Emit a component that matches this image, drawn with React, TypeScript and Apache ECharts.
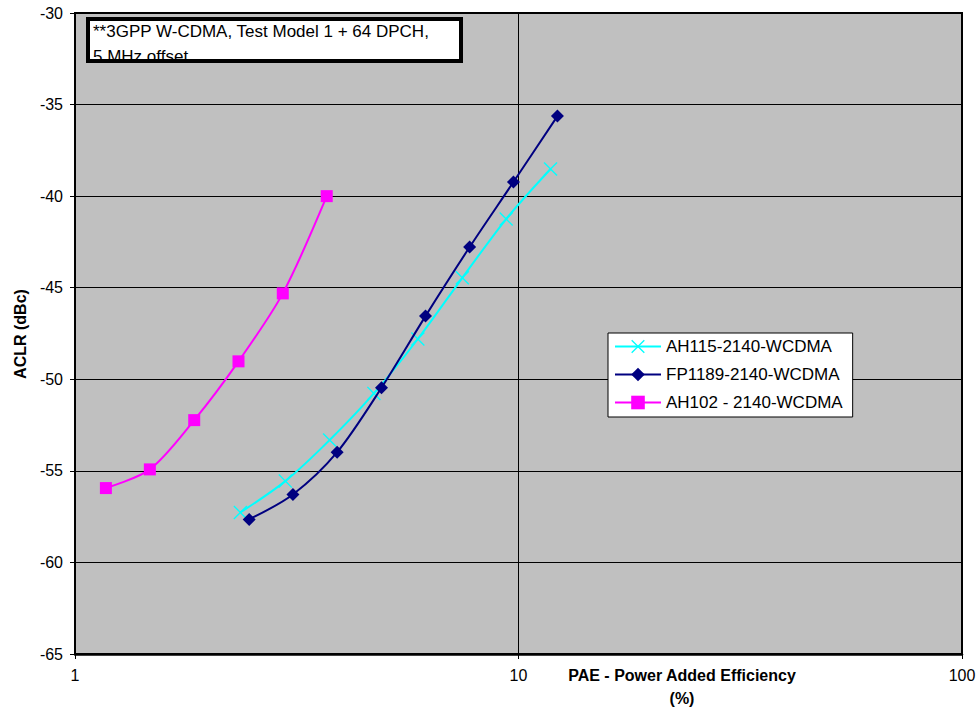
import React, { useEffect, useRef } from "react";
import * as echarts from "echarts";

const seriesNames = ["AH115-2140-WCDMA", "FP1189-2140-WCDMA", "AH102 - 2140-WCDMA"];
const ah115X = [2.36, 2.98, 3.75, 4.72, 5.93, 7.47, 9.38, 11.81];
const ah115Y = [-57.27, -55.56, -53.32, -50.77, -47.8, -44.46, -41.25, -38.52];
const fp1189X = [2.47, 3.1, 3.9, 4.91, 6.17, 7.76, 9.74, 12.24];
const fp1189Y = [-57.65, -56.29, -53.98, -50.46, -46.55, -42.78, -39.23, -35.63];
const ah102X = [1.174, 1.475, 1.857, 2.337, 2.941, 3.695];
const ah102Y = [-55.94, -54.92, -52.23, -49.02, -45.31, -40.0];
const annotationLines = ["**3GPP W-CDMA, Test Model 1 + 64 DPCH,", "5 MHz offset"];
const xTitleLines = ["PAE - Power Added Efficiency", "(%)"];
const yTitle = "ACLR (dBc)";

const FONT = "Liberation Sans, Arial, sans-serif";
const X_SYMBOL = "path://M0,0.7L0.7,0L5,4.3L9.3,0L10,0.7L5.7,5L10,9.3L9.3,10L5,5.7L0.7,10L0,9.3L4.3,5Z";

function zip(xs: number[], ys: number[]) {
  return xs.map((x, i) => [x, ys[i]]);
}

export default function App() {
  const ref = useRef<HTMLDivElement>(null);
  useEffect(() => {
    document.body.style.margin = "0";
    const chart = echarts.init(ref.current!, null, { renderer: "svg" });
    const colors = ["#00FFFF", "#000080", "#FF00FF"];
    chart.setOption({
      animation: false,
      backgroundColor: "#FFFFFF",
      grid: {
        left: 75,
        right: 17,
        top: 13,
        bottom: 57,
        show: true,
        backgroundColor: "#C0C0C0",
        borderColor: "#000000",
        borderWidth: 2,
      },
      xAxis: {
        type: "log",
        logBase: 10,
        min: 1,
        max: 100,
        axisLine: { show: true, lineStyle: { color: "#000", width: 2.5 } },
        axisTick: { show: true, length: 5, lineStyle: { color: "#000" } },
        minorTick: { show: false },
        axisLabel: { color: "#000", fontSize: 16, fontFamily: FONT, margin: 13 },
        splitLine: { show: true, lineStyle: { color: "#000", width: 1 } },
      },
      yAxis: {
        type: "value",
        min: -65,
        max: -30,
        interval: 5,
        axisLine: { show: true, lineStyle: { color: "#000", width: 1.5 } },
        axisTick: { show: true, length: 5, lineStyle: { color: "#000" } },
        axisLabel: { color: "#000", fontSize: 16, fontFamily: FONT, margin: 12 },
        splitLine: { show: true, lineStyle: { color: "#000", width: 1 } },
      },
      legend: {
        orient: "vertical",
        left: 608,
        top: 333,
        width: 247,
        backgroundColor: "#FFFFFF",
        borderColor: "#000000",
        borderWidth: 1,
        padding: [5, 10, 6, 6],
        itemGap: 11,
        itemWidth: 46,
        itemHeight: 17,
        textStyle: { fontSize: 17, fontFamily: FONT, color: "#000" },
        data: seriesNames,
      },
      series: [
        {
          name: seriesNames[0],
          type: "line",
          data: zip(ah115X, ah115Y),
          smooth: 0.3,
          symbol: X_SYMBOL,
          symbolSize: 14,
          color: colors[0],
          lineStyle: { width: 2, color: colors[0] },
          itemStyle: { color: colors[0] },
          z: 3,
        },
        {
          name: seriesNames[1],
          type: "line",
          data: zip(fp1189X, fp1189Y),
          smooth: 0.3,
          symbol: "diamond",
          symbolSize: 13,
          color: colors[1],
          lineStyle: { width: 2, color: colors[1] },
          itemStyle: { color: colors[1] },
          z: 4,
        },
        {
          name: seriesNames[2],
          type: "line",
          data: zip(ah102X, ah102Y),
          smooth: 0.3,
          symbol: "rect",
          symbolSize: 12,
          color: colors[2],
          lineStyle: { width: 2, color: colors[2] },
          itemStyle: { color: colors[2] },
          z: 5,
        },
      ],
      graphic: [
        {
          type: "rect",
          z: 100,
          shape: { x: 88, y: 19, width: 373, height: 42 },
          style: { fill: "#FFFFFF", stroke: "none" },
        },
        {
          type: "text",
          z: 101,
          x: 93,
          y: 23,
          style: { text: annotationLines[0], font: `17px ${FONT}`, fill: "#000" },
        },
        {
          type: "text",
          z: 101,
          x: 93,
          y: 48,
          style: { text: annotationLines[1], font: `17px ${FONT}`, fill: "#000" },
        },
        {
          type: "rect",
          z: 102,
          shape: { x: 84, y: 62, width: 381, height: 9 },
          style: { fill: "#C0C0C0", stroke: "none" },
        },
        {
          type: "rect",
          z: 103,
          shape: { x: 88, y: 19, width: 373, height: 42 },
          style: { fill: "none", stroke: "#000", lineWidth: 4 },
        },
        {
          type: "text",
          z: 101,
          x: 682,
          y: 675,
          style: {
            text: xTitleLines[0],
            font: `bold 16px ${FONT}`,
            fill: "#000",
            align: "center",
            verticalAlign: "middle",
          },
        },
        {
          type: "text",
          z: 101,
          x: 682,
          y: 698,
          style: {
            text: xTitleLines[1],
            font: `bold 16px ${FONT}`,
            fill: "#000",
            align: "center",
            verticalAlign: "middle",
          },
        },
        {
          type: "text",
          z: 101,
          x: 20,
          y: 334,
          rotation: Math.PI / 2,
          style: {
            text: yTitle,
            font: `bold 16px ${FONT}`,
            fill: "#000",
            align: "center",
            verticalAlign: "middle",
          },
        },
      ],
    });
    return () => chart.dispose();
  }, []);
  return <div ref={ref} style={{ width: 979, height: 711 }} />;
}
